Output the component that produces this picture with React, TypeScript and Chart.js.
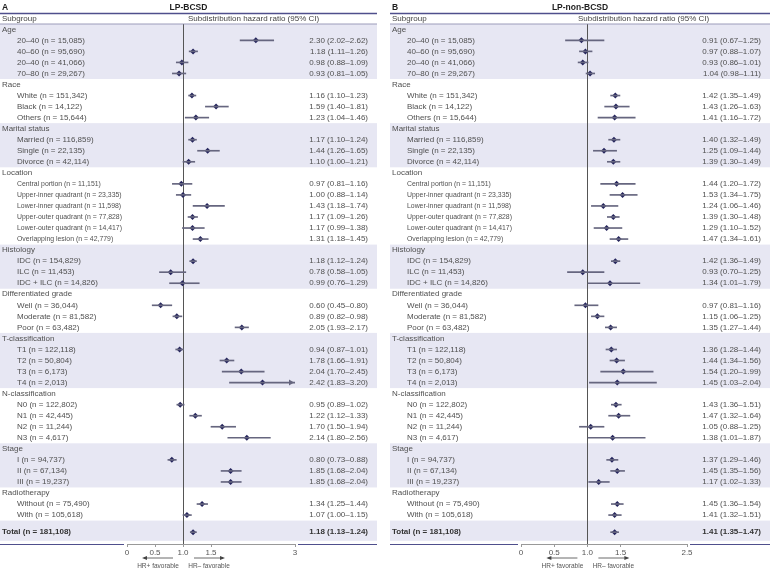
import React, { useEffect, useRef } from 'react';
import { Chart, registerables } from 'chart.js';
Chart.register(...registerables);

// ---------------- data ----------------
const groupNames = ['Age', 'Race', 'Marital status', 'Location', 'Histology', 'Differentiated grade', 'T-classification', 'N-classification', 'Stage', 'Radiotherapy'];
const groupSizes = [4, 3, 3, 6, 3, 3, 4, 4, 3, 2];
const shadedGroups = [true, false, true, false, true, false, true, false, true, false];
const narrowGroups = [false, false, false, true, false, false, false, false, false, false];

const subgroupLabels = [
  '20–40 (n = 15,085)', '40–60 (n = 95,690)', '20–40 (n = 41,066)', '70–80 (n = 29,267)',
  'White (n = 151,342)', 'Black (n = 14,122)', 'Others (n = 15,644)',
  'Married (n = 116,859)', 'Single (n = 22,135)', 'Divorce (n = 42,114)',
  'Central portion (n = 11,151)', 'Upper-inner quadrant (n = 23,335)', 'Lower-inner quadrant (n = 11,598)', 'Upper-outer quadrant (n = 77,828)', 'Lower-outer quadrant (n = 14,417)', 'Overlapping lesion (n = 42,779)',
  'IDC (n = 154,829)', 'ILC (n = 11,453)', 'IDC + ILC (n = 14,826)',
  'Well (n = 36,044)', 'Moderate (n = 81,582)', 'Poor (n = 63,482)',
  'T1 (n = 122,118)', 'T2 (n = 50,804)', 'T3 (n = 6,173)', 'T4 (n = 2,013)',
  'N0 (n = 122,802)', 'N1 (n = 42,445)', 'N2 (n = 11,244)', 'N3 (n = 4,617)',
  'I (n = 94,737)', 'II (n = 67,134)', 'III (n = 19,237)',
  'Without (n = 75,490)', 'With (n = 105,618)',
];
const totalLabel = 'Total (n = 181,108)';

// Panel A: LP-BCSD
const hrA = [2.30, 1.18, 0.98, 0.93, 1.16, 1.59, 1.23, 1.17, 1.44, 1.10, 0.97, 1.00, 1.43, 1.17, 1.17, 1.31, 1.18, 0.78, 0.99, 0.60, 0.89, 2.05, 0.94, 1.78, 2.04, 2.42, 0.95, 1.22, 1.70, 2.14, 0.80, 1.85, 1.85, 1.34, 1.07];
const loA = [2.02, 1.11, 0.88, 0.81, 1.10, 1.40, 1.04, 1.10, 1.26, 1.00, 0.81, 0.88, 1.18, 1.09, 0.99, 1.18, 1.12, 0.58, 0.76, 0.45, 0.82, 1.93, 0.87, 1.66, 1.70, 1.83, 0.89, 1.12, 1.50, 1.80, 0.73, 1.68, 1.68, 1.25, 1.00];
const hiA = [2.62, 1.26, 1.09, 1.05, 1.23, 1.81, 1.46, 1.24, 1.65, 1.21, 1.16, 1.14, 1.74, 1.26, 1.38, 1.45, 1.24, 1.05, 1.29, 0.80, 0.98, 2.17, 1.01, 1.91, 2.45, 3.20, 1.02, 1.33, 1.94, 2.56, 0.88, 2.04, 2.04, 1.44, 1.15];
const totalA = [1.18, 1.13, 1.24];
const ticksA = [0, 0.5, 1, 1.5, 3];
const tickLabelsA = ['0', '0.5', '1.0', '1.5', '3'];

// Panel B: LP-non-BCSD
const hrB = [0.91, 0.97, 0.93, 1.04, 1.42, 1.43, 1.41, 1.40, 1.25, 1.39, 1.44, 1.53, 1.24, 1.39, 1.29, 1.47, 1.42, 0.93, 1.34, 0.97, 1.15, 1.35, 1.36, 1.44, 1.54, 1.45, 1.43, 1.47, 1.05, 1.38, 1.37, 1.45, 1.17, 1.45, 1.41];
const loB = [0.67, 0.88, 0.86, 0.98, 1.35, 1.26, 1.16, 1.32, 1.09, 1.30, 1.20, 1.34, 1.06, 1.30, 1.10, 1.34, 1.36, 0.70, 1.01, 0.81, 1.06, 1.27, 1.28, 1.34, 1.20, 1.03, 1.36, 1.32, 0.88, 1.01, 1.29, 1.35, 1.02, 1.36, 1.32];
const hiB = [1.25, 1.07, 1.01, 1.11, 1.49, 1.63, 1.72, 1.49, 1.44, 1.49, 1.72, 1.75, 1.46, 1.48, 1.52, 1.61, 1.49, 1.25, 1.79, 1.16, 1.25, 1.44, 1.44, 1.56, 1.99, 2.04, 1.51, 1.64, 1.25, 1.87, 1.46, 1.56, 1.33, 1.54, 1.51];
const totalB = [1.41, 1.35, 1.47];
const ticksB = [0, 0.5, 1, 1.5, 2.5];
const tickLabelsB = ['0', '0.5', '1.0', '1.5', '2.5'];

// ---------------- layout / style ----------------
const FONT = '"Liberation Sans", Arial, sans-serif';
const BAND = '#e7e7f3';
const RULE = '#4f4f8c';
const CI_COLOR = '#66667f';
const MARK = '#25255c';
const TEXT = '#505050';

type Row = { kind: 'group' | 'item'; text: string; idx: number; item: number; group: number };
const rows: Row[] = [];
const groupStart: number[] = [];
{
  let r = 0;
  let k = 0;
  groupNames.forEach((g, gi) => {
    groupStart.push(r);
    rows.push({ kind: 'group', text: g, idx: r++, item: -1, group: gi });
    for (let j = 0; j < groupSizes[gi]; j++) {
      rows.push({ kind: 'item', text: subgroupLabels[k], idx: r++, item: k, group: gi });
      k++;
    }
  });
}
const lastRow = rows.length - 1;
const totalRow = lastRow + 1.55;

const fmt = (h: number, l: number, u: number) => `${h.toFixed(2)} (${l.toFixed(2)}–${u.toFixed(2)})`;

type Panel = {
  letter: string; title: string; hr: number[]; lo: number[]; hi: number[]; total: number[];
  ticks: number[]; tickLabels: string[]; xMax: number;
  contentLeft: number; contentRight: number; padLeft: number; padRight: number;
};

const panels: Panel[] = [
  { letter: 'A', title: 'LP-BCSD', hr: hrA, lo: loA, hi: hiA, total: totalA, ticks: ticksA, tickLabels: tickLabelsA, xMax: 3, contentLeft: 0, contentRight: 377, padLeft: 127, padRight: 90 },
  { letter: 'B', title: 'LP-non-BCSD', hr: hrB, lo: loB, hi: hiB, total: totalB, ticks: ticksB, tickLabels: tickLabelsB, xMax: 2.5, contentLeft: 5, contentRight: 385, padLeft: 136, padRight: 83 },
];

function hline(ctx: CanvasRenderingContext2D, x1: number, x2: number, y: number) {
  ctx.beginPath();
  ctx.moveTo(x1, y);
  ctx.lineTo(x2, y);
  ctx.stroke();
}

function forestPlugin(p: Panel) {
  return {
    id: 'forest' + p.letter,
    beforeDraw(chart: any) {
      const ctx: CanvasRenderingContext2D = chart.ctx;
      const y = chart.scales.y;
      ctx.save();
      ctx.fillStyle = BAND;
      groupNames.forEach((_, gi) => {
        if (!shadedGroups[gi]) return;
        const first = groupStart[gi];
        const last = first + groupSizes[gi];
        const top = y.getPixelForValue(first - 0.5);
        const bot = y.getPixelForValue(last + 0.5);
        ctx.fillRect(p.contentLeft, top, p.contentRight - p.contentLeft, bot - top);
      });
      const tTop = y.getPixelForValue(totalRow - 1.05);
      const tBot = y.getPixelForValue(totalRow + 0.78);
      ctx.fillRect(p.contentLeft, tTop, p.contentRight - p.contentLeft, tBot - tTop);
      ctx.restore();
    },
    beforeDatasetsDraw(chart: any) {
      const ctx: CanvasRenderingContext2D = chart.ctx;
      const x = chart.scales.x;
      const area = chart.chartArea;
      const px = Math.round(x.getPixelForValue(1)) + 0.5;
      ctx.save();
      ctx.strokeStyle = '#555';
      ctx.lineWidth = 1;
      ctx.beginPath();
      ctx.moveTo(px, area.top);
      ctx.lineTo(px, area.bottom);
      ctx.stroke();
      ctx.restore();
    },
    afterDraw(chart: any) {
      const ctx: CanvasRenderingContext2D = chart.ctx;
      const x = chart.scales.x;
      const y = chart.scales.y;
      const area = chart.chartArea;
      const L = p.contentLeft;
      const R = p.contentRight;
      ctx.save();
      ctx.textBaseline = 'middle';

      // title row
      ctx.fillStyle = '#1e1e1e';
      ctx.font = `bold 8.5px ${FONT}`;
      ctx.textAlign = 'left';
      ctx.fillText(p.letter, L + 2, 8);
      ctx.textAlign = 'center';
      ctx.fillText(p.title, (L + R) / 2, 8);

      ctx.strokeStyle = RULE;
      ctx.lineWidth = 1.5;
      hline(ctx, L, R, 13.5);

      // header
      ctx.font = `8px ${FONT}`;
      ctx.fillStyle = '#444';
      ctx.textAlign = 'left';
      ctx.fillText('Subgroup', L + 2, 19);
      ctx.fillText('Subdistribution hazard ratio (95% CI)', L + 188, 19);
      ctx.strokeStyle = '#8c8cab';
      ctx.lineWidth = 0.8;
      hline(ctx, L, R, 24);

      // arrows for CIs beyond the axis
      ctx.fillStyle = CI_COLOR;
      rows.forEach((row) => {
        if (row.kind !== 'item') return;
        if (p.hi[row.item] > p.xMax) {
          const tx = area.right - 1;
          const ty = y.getPixelForValue(row.idx);
          ctx.beginPath();
          ctx.moveTo(tx, ty);
          ctx.lineTo(tx - 5, ty - 3);
          ctx.lineTo(tx - 5, ty + 3);
          ctx.closePath();
          ctx.fill();
        }
      });

      // rows
      rows.forEach((row) => {
        const py = y.getPixelForValue(row.idx);
        ctx.fillStyle = TEXT;
        ctx.textAlign = 'left';
        ctx.font = `8px ${FONT}`;
        if (row.kind === 'group') {
          ctx.fillText(row.text, L + 2, py);
        } else {
          if (narrowGroups[row.group]) {
            const w = ctx.measureText(row.text).width;
            ctx.fillText(row.text, L + 17, py, w * 0.86);
          } else {
            ctx.fillText(row.text, L + 17, py);
          }
          ctx.textAlign = 'right';
          ctx.fillText(fmt(p.hr[row.item], p.lo[row.item], p.hi[row.item]), R - 9, py);
        }
      });

      // total
      const ty = y.getPixelForValue(totalRow);
      ctx.fillStyle = '#333';
      ctx.font = `bold 8px ${FONT}`;
      ctx.textAlign = 'left';
      ctx.fillText(totalLabel, L + 2, ty);
      ctx.textAlign = 'right';
      ctx.fillText(fmt(p.total[0], p.total[1], p.total[2]), R - 9, ty);

      // bottom rule, broken around the axis
      ctx.strokeStyle = RULE;
      ctx.lineWidth = 1.2;
      hline(ctx, L, area.left - 3, area.bottom + 0.5);
      hline(ctx, area.right + 3, R, area.bottom + 0.5);

      // favourable arrows
      const one = x.getPixelForValue(1);
      const ay = 558;
      ctx.strokeStyle = '#444';
      ctx.fillStyle = '#444';
      ctx.lineWidth = 0.8;
      hline(ctx, one - 10, one - 39, ay);
      ctx.beginPath();
      ctx.moveTo(one - 41, ay);
      ctx.lineTo(one - 36, ay - 2);
      ctx.lineTo(one - 36, ay + 2);
      ctx.closePath();
      ctx.fill();
      hline(ctx, one + 11, one + 40, ay);
      ctx.beginPath();
      ctx.moveTo(one + 42, ay);
      ctx.lineTo(one + 37, ay - 2);
      ctx.lineTo(one + 37, ay + 2);
      ctx.closePath();
      ctx.fill();

      ctx.font = `6.5px ${FONT}`;
      ctx.fillStyle = '#555';
      ctx.textAlign = 'center';
      ctx.fillText('HR+ favorable', one - 25, 566);
      ctx.fillText('HR– favorable', one + 26, 566);
      ctx.restore();
    },
  };
}

function makeChart(canvas: HTMLCanvasElement, p: Panel) {
  const items = rows.filter((r) => r.kind === 'item');
  const ciData: any[] = items.map((r) => ({ x: [p.lo[r.item], p.hi[r.item]], y: r.idx }));
  ciData.push({ x: [p.total[1], p.total[2]], y: totalRow });
  const ptData: any[] = items.map((r) => ({ x: p.hr[r.item], y: r.idx }));
  ptData.push({ x: p.total[0], y: totalRow });

  return new Chart(canvas, {
    type: 'scatter',
    data: {
      datasets: [
        {
          type: 'bar',
          indexAxis: 'y',
          data: ciData,
          backgroundColor: CI_COLOR,
          borderWidth: 0,
          barThickness: 1,
          grouped: false,
        } as any,
        {
          type: 'scatter',
          data: ptData,
          pointStyle: 'rectRot',
          pointRadius: 3,
          backgroundColor: MARK,
          borderWidth: 0,
        } as any,
      ],
    },
    options: {
      animation: false,
      responsive: false,
      maintainAspectRatio: false,
      events: [],
      layout: { padding: { left: p.padLeft, right: p.padRight, top: 24, bottom: 13 } },
      plugins: { legend: { display: false }, tooltip: { enabled: false }, title: { display: false } },
      scales: {
        x: {
          type: 'linear',
          min: 0,
          max: p.xMax,
          offset: false,
          afterBuildTicks: (s: any) => {
            s.ticks = p.ticks.map((v) => ({ value: v }));
          },
          afterFit: (s: any) => {
            s.height = 12;
          },
          ticks: {
            callback: (_v: any, i: number) => p.tickLabels[i],
            font: { size: 8, family: FONT },
            color: '#555',
            padding: 1,
            maxRotation: 0,
            autoSkip: false,
          },
          grid: { drawOnChartArea: false, drawTicks: true, tickLength: 3, color: '#999', offset: false },
          border: { display: true, color: '#999' },
        },
        y: {
          type: 'linear',
          display: false,
          reverse: true,
          offset: false,
          grid: { offset: false },
          min: -0.48,
          max: 46.62,
        },
      },
    } as any,
    plugins: [forestPlugin(p)],
  });
}

export default function App() {
  const refA = useRef<HTMLCanvasElement>(null);
  const refB = useRef<HTMLCanvasElement>(null);
  useEffect(() => {
    Chart.defaults.font.family = FONT;
    const charts = [makeChart(refA.current!, panels[0]), makeChart(refB.current!, panels[1])];
    return () => charts.forEach((c) => c.destroy());
  }, []);
  return (
    <div style={{ position: 'fixed', left: 0, top: 0, width: 770, height: 569, background: '#fff' }}>
      <canvas ref={refA} width={385} height={569} style={{ position: 'absolute', left: 0, top: 0, width: 385, height: 569 }} />
      <canvas ref={refB} width={385} height={569} style={{ position: 'absolute', left: 385, top: 0, width: 385, height: 569 }} />
    </div>
  );
}
